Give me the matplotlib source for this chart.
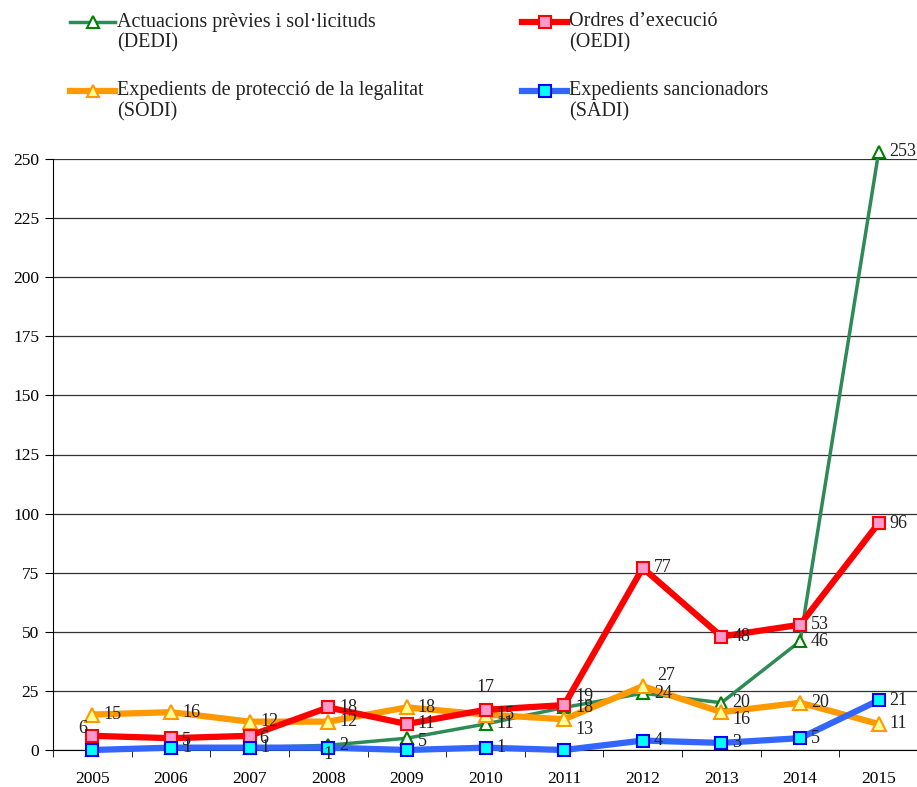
import numpy as np
import matplotlib
matplotlib.use("Agg")
import matplotlib.pyplot as plt
from matplotlib.lines import Line2D

years = ["2005", "2006", "2007", "2008", "2009", "2010", "2011", "2012", "2013", "2014", "2015"]
dedi = [0, 1, 1, 2, 5, 11, 18, 24, 20, 46, 253]
oedi = [6, 5, 6, 18, 11, 17, 19, 77, 48, 53, 96]
sodi = [15, 16, 12, 12, 18, 15, 13, 27, 16, 20, 11]
sadi = [0, 1, 1, 1, 0, 1, 0, 4, 3, 5, 21]
yticks = [0, 25, 50, 75, 100, 125, 150, 175, 200, 225, 250]

labels_dedi = ["", "", "", "2", "5", "11", "18", "24", "20", "46", "253"]
labels_oedi = ["6", "5", "6", "18", "11", "17", "19", "77", "48", "53", "96"]
labels_sodi = ["15", "16", "12", "12", "18", "15", "13", "27", "16", "20", "11"]
labels_sadi = ["", "1", "1", "1", "", "1", "", "4", "3", "5", "21"]

plt.rcParams['font.family'] = ['Liberation Serif', 'DejaVu Serif']

W, H = 917, 787
fig = plt.figure(figsize=(W / 100, H / 100), dpi=100)
ax = fig.add_axes([53 / W, 1 - 750 / H, 865 / W, (750 - 159) / H])

x = np.arange(len(years))

styles = {
    "dedi": dict(color="#2E8B57", lw=2.5, marker="^", ms=9, mfc="white", mec="#008000", mew=1.5),
    "sodi": dict(color="#FF9900", lw=4.5, marker="^", ms=10, mfc="#FFFF99", mec="#FF9900", mew=1.5),
    "oedi": dict(color="#FF0000", lw=4.5, marker="s", ms=9, mfc="#FF99CC", mec="#FF0000", mew=1.5),
    "sadi": dict(color="#3366FF", lw=4.5, marker="s", ms=9, mfc="#00FFFF", mec="#0000FF", mew=1.5),
}

ax.plot(x, dedi, zorder=3, clip_on=False, **styles["dedi"])
ax.plot(x, sodi, zorder=4, clip_on=False, **styles["sodi"])
ax.plot(x, oedi, zorder=5, clip_on=False, **styles["oedi"])
ax.plot(x, sadi, zorder=6, clip_on=False, **styles["sadi"])

fs = 13
def lab(xi, yi, t, dx=11, dy=0, ha="left"):
    if t:
        ax.annotate(t, (xi, yi), xytext=(dx, dy), textcoords="offset pixels",
                    ha=ha, va="center", fontsize=fs, color="#222222", zorder=10,
                    annotation_clip=False)

# per-point label offsets (pixels), default right of point
off_dedi = {3: (11, 0), 4: (11, -3)}
off_oedi = {0: (-5, 7), 1: (11, -2), 2: (10, -3), 5: (0, 22), 6: (11, 9)}
off_sodi = {5: (11, 0), 6: (11, -10), 7: (14, 11), 8: (11, -7)}
off_sadi = {3: (0, -7)}

for i in range(len(years)):
    dx, dy = off_dedi.get(i, (11, 0))
    lab(i, dedi[i], labels_dedi[i], dx, dy)
    dx, dy = off_sodi.get(i, (11, 0))
    lab(i, sodi[i], labels_sodi[i], dx, dy)
    dx, dy = off_oedi.get(i, (11, 0))
    ha = "right" if dx < 0 else ("center" if dx == 0 else "left")
    lab(i, oedi[i], labels_oedi[i], dx, dy, ha)
    dx, dy = off_sadi.get(i, (11, 0))
    ha = "center" if dx == 0 else "left"
    lab(i, sadi[i], labels_sadi[i], dx, dy, ha)

ax.set_xlim(-0.5, len(years) - 0.5)
ax.set_ylim(0, 250)
ax.set_yticks(yticks)
ax.set_yticklabels([str(v) for v in yticks], fontsize=12.5)
ax.set_xticks(x)
ax.set_xticklabels(years, fontsize=12.5)
ax.set_xticks(np.arange(-0.5, len(years), 1), minor=True)
ax.tick_params(axis="x", which="major", length=0, pad=15)
ax.tick_params(axis="x", which="minor", length=5, direction="out", color="black")
ax.tick_params(axis="y", length=6, direction="out", pad=4)
ax.grid(axis="y", color="#333333", lw=0.9)
ax.set_axisbelow(True)
for s in ["top", "right"]:
    ax.spines[s].set_visible(False)
ax.spines["left"].set_color("black")
ax.spines["bottom"].set_color("black")

# manual legend
legend_items = [
    ("dedi", 70, 22, "Actuacions prèvies i sol·licituds", "(DEDI)"),
    ("oedi", 522, 22, "Ordres d\u2019execució", "(OEDI)"),
    ("sodi", 70, 91, "Expedients de protecció de la legalitat", "(SODI)"),
    ("sadi", 522, 91, "Expedients sancionadors", "(SADI)"),
]
for key, hx, hy, t1, t2 in legend_items:
    st = dict(styles[key])
    yy = 1 - hy / H
    fig.add_artist(Line2D([hx / W, (hx + 45) / W], [yy, yy], transform=fig.transFigure,
                          color=st["color"], lw=st["lw"]))
    fig.add_artist(Line2D([(hx + 22.5) / W], [yy], transform=fig.transFigure, ls="none",
                          marker=st["marker"], ms=st["ms"] - 1, mfc=st["mfc"], mec=st["mec"],
                          mew=st["mew"]))
    fig.text((hx + 47) / W, yy, t1, fontsize=14.5, va="center", ha="left", color="#222222")
    fig.text((hx + 47) / W, 1 - (hy + 21) / H, t2, fontsize=14.5, va="center", ha="left",
             color="#222222")

fig.savefig("out.png", dpi=100)
